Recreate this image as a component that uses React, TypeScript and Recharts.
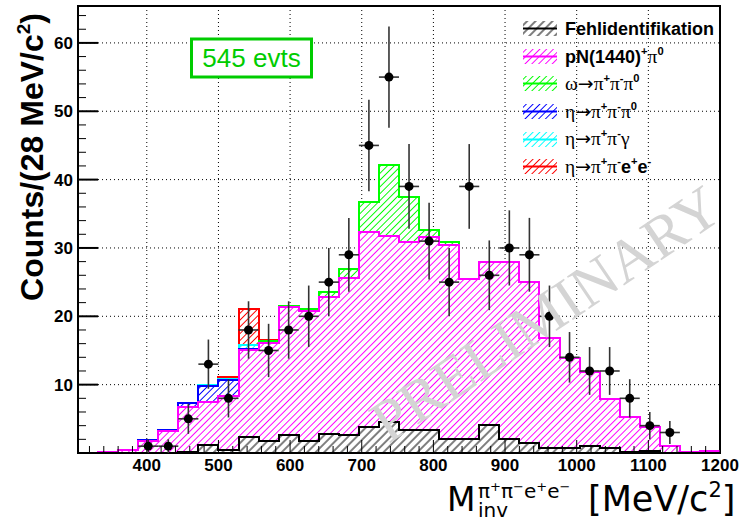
import React from "react";
import {
  ComposedChart,
  Area,
  Line,
  Scatter,
  ErrorBar,
  XAxis,
  YAxis,
  CartesianGrid,
  ReferenceArea,
} from "recharts";

const SANS = '"Liberation Sans", Arial, Helvetica, sans-serif';
const SERIF = '"Liberation Serif", "Times New Roman", serif';
const WIDE = '"DejaVu Sans", Verdana, sans-serif';

// histogram binning: 28 MeV bins, lower edges
const BIN_LOW = [
  304, 332, 360, 388, 416, 444, 472, 500, 528, 556, 584, 612, 640, 668, 696, 724,
  752, 780, 808, 836, 864, 892, 920, 948, 976, 1004, 1032, 1060, 1088, 1116, 1144, 1172,
];
const X_MIN = 304;
const X_MAX = 1200;
const Y_MAX = 65.4;

// simulated contributions per bin (stacked in this order)
const FEHL = [0, 0, 0, 0, 0, 0.2, 1.1, 0.4, 2.3, 1.8, 2.6, 1.7, 2.8, 2.7, 3.8, 4.6, 3.3, 3.4, 2.0, 2.0, 4.1, 2.0, 1.4, 0.8, 0.7, 1.05, 0.73, 0.1, 0.3, 0, 0, 0];
const PN1440 = [0, 0.15, 0.5, 1.7, 3.25, 6.5, 6.3, 8.0, 12.8, 14.3, 18.8, 19.1, 20.0, 22.9, 28.6, 27.2, 27.6, 28.2, 28.45, 23.5, 23.9, 26.0, 23.65, 16.0, 13.25, 10.8, 7.1, 5.1, 3.5, 1.05, 0.15, 0.25];
const OMEGA = [0, 0, 0, 0, 0, 0, 0, 0, 0, 0.3, 0.15, 0.25, 0.7, 1.35, 4.3, 10.4, 6.6, 1.0, 0.4, 0, 0, 0, 0, 0, 0, 0, 0, 0, 0, 0, 0, 0];
const ETA_3PI = [0, 0, 0, 0.15, 0.15, 0.6, 2.45, 2.3, 0.15, 0, 0, 0, 0, 0, 0, 0, 0, 0, 0, 0, 0, 0, 0, 0, 0, 0, 0, 0, 0, 0, 0, 0];
const ETA_GAMMA = [0, 0, 0, 0, 0, 0, 0.1, 0.1, 0.55, 0, 0, 0, 0, 0, 0, 0, 0, 0, 0, 0, 0, 0, 0, 0, 0, 0, 0, 0, 0, 0, 0, 0];
const ETA_DALITZ = [0, 0, 0, 0, 0, 0, 0, 0.25, 5.2, 0.15, 0, 0, 0, 0, 0, 0, 0, 0, 0, 0, 0, 0, 0, 0, 0, 0, 0, 0, 0, 0, 0, 0];

// measured data (bin centres)
const DATA_MASS = [402, 430, 458, 486, 514, 542, 570, 598, 626, 654, 682, 710, 738, 766, 794, 822, 850, 878, 906, 934, 962, 990, 1018, 1046, 1074, 1102, 1130];
const DATA_COUNTS = [1, 1, 5, 13, 8, 18, 15, 18, 20, 25, 29, 45, 55, 39, 31, 25, 39, 26, 30, 29, 20, 14, 12, 12, 8, 4, 3];
const DATA_ERR = [1, 1, 2.2, 3.6, 2.8, 4.2, 3.9, 4.2, 4.5, 5, 5.4, 6.7, 7.4, 6.2, 5.6, 5, 6.2, 5.1, 5.5, 5.4, 4.5, 3.7, 3.5, 3.5, 2.8, 2, 1.7];
const HALF_BIN = 14;

const X_MAJOR = [400, 500, 600, 700, 800, 900, 1000, 1100, 1200];
const X_MINOR = [
  320, 340, 360, 380, 420, 440, 460, 480, 520, 540, 560, 580, 620, 640, 660, 680,
  720, 740, 760, 780, 820, 840, 860, 880, 920, 940, 960, 980, 1020, 1040, 1060, 1080,
  1120, 1140, 1160, 1180,
];
const Y_MAJOR = [10, 20, 30, 40, 50, 60];
const Y_MINOR = [2, 4, 6, 8, 12, 14, 16, 18, 22, 24, 26, 28, 32, 34, 36, 38, 42, 44, 46, 48, 52, 54, 56, 58, 62, 64];

const SERIES = [
  { key: "fehl", label: "Fehlidentifikation", color: "#000000", values: FEHL, gap: 6 },
  { key: "pn", label: "pN(1440)^{+}π^{0}", color: "#ff00ff", values: PN1440, gap: 4.8 },
  { key: "omega", label: "ω→π^{+}π^{-}π^{0}", color: "#00ff00", values: OMEGA, gap: 4.8 },
  { key: "eta3", label: "η→π^{+}π^{-}π^{0}", color: "#0000ff", values: ETA_3PI, gap: 4.8 },
  { key: "etag", label: "η→π^{+}π^{-}γ", color: "#00ffff", values: ETA_GAMMA, gap: 4.8 },
  { key: "etad", label: "η→π^{+}π^{-}e^{+}e^{-}", color: "#ff0000", values: ETA_DALITZ, gap: 4.8 },
];

const isMajorX = (v: number) => X_MAJOR.includes(v);
const isMajorY = (v: number) => Y_MAJOR.includes(v);

function XTick(props: any) {
  const { x, y, payload } = props;
  const major = isMajorX(payload.value);
  return (
    <g>
      <line x1={x} x2={x} y1={y} y2={y - (major ? 13 : 7)} stroke="#000" strokeWidth={1} />
      {major && (
        <text x={x} y={y + 18} textAnchor="middle" fontSize={17} fontWeight="bold" fontFamily={SANS} fill="#000">
          {payload.value}
        </text>
      )}
    </g>
  );
}

function YTick(props: any) {
  const { x, y, payload } = props;
  const major = isMajorY(payload.value);
  return (
    <g>
      <line x1={x} x2={x + (major ? 20 : 8)} y1={y} y2={y} stroke="#000" strokeWidth={major ? 2 : 1} />
      {major && (
        <text x={x - 5} y={y + 6} textAnchor="end" fontSize={17} fontWeight="bold" fontFamily={SANS} fill="#000">
          {payload.value}
        </text>
      )}
    </g>
  );
}

const GREEK = /[\u0370-\u03ff\u2192]/;

// tiny ROOT-like latex: ^{..} superscripts, greek letters / arrows in a symbol-ish font
function latex(src: string, size: number) {
  const parts = src.split(/(\^\{[^}]*\})/).filter(Boolean);
  return parts.map((p, i) => {
    if (p.startsWith("^{")) {
      return (
        <span key={i} style={{ fontSize: size * 0.62, fontWeight: "bold", position: "relative", top: -size * 0.45, fontFamily: SANS }}>
          {p.slice(2, -1)}
        </span>
      );
    }
    return p
      .split(/([\u0370-\u03ff\u2192]+)/)
      .filter(Boolean)
      .map((q, j) =>
        GREEK.test(q) ? (
          <span key={i + "-" + j} style={{ fontFamily: SERIF, fontWeight: "normal", fontSize: size * 1.08 }}>
            {q.split("").map((c, k) =>
              c === "\u2192" ? (
                <span key={k} style={{ fontFamily: WIDE, fontSize: size * 1.05 }}>{c}</span>
              ) : (
                c
              )
            )}
          </span>
        ) : (
          <span key={i + "-" + j} style={{ fontWeight: "bold" }}>{q}</span>
        )
      );
  });
}

export default function App() {
  const rows = [...BIN_LOW, X_MAX].map((x, i) => {
    const idx = Math.min(i, BIN_LOW.length - 1);
    const row: Record<string, number> = { x };
    SERIES.forEach((s) => (row[s.key] = s.values[idx]));
    return row;
  });

  const points = DATA_MASS.map((m, i) => ({ x: m, y: DATA_COUNTS[i], ey: DATA_ERR[i], ex: HALF_BIN }));

  // outlines of the cumulative sums, top of stack first so lower ones end up on top
  const outlines = SERIES.map((s, idx) => ({ ...s, keys: SERIES.slice(0, idx + 1).map((k) => k.key) })).reverse();

  return (
    <div style={{ position: "absolute", left: 0, top: 0, width: 742, height: 519, background: "#fff", fontFamily: SANS }}>
      <svg width={0} height={0} style={{ position: "absolute" }}>
        <defs>
          {SERIES.map((s) => (
            <pattern
              key={s.key}
              id={`hatch-${s.key}`}
              patternUnits="userSpaceOnUse"
              width={s.gap}
              height={s.gap}
              patternTransform="rotate(45)"
            >
              <rect width={s.gap} height={s.gap} fill="#fff" />
              <line x1={s.gap / 2} x2={s.gap / 2} y1={0} y2={s.gap} stroke={s.color} strokeWidth={1} />
            </pattern>
          ))}
        </defs>
      </svg>

      <ComposedChart width={742} height={519} data={rows} margin={{ top: 6, right: 22, bottom: 0, left: 0 }}>
        <XAxis xAxisId="grid" dataKey="x" type="number" domain={[X_MIN, X_MAX]} ticks={X_MAJOR} hide allowDataOverflow />
        <YAxis yAxisId="grid" type="number" domain={[0, Y_MAX]} ticks={Y_MAJOR} hide allowDataOverflow />
        <CartesianGrid xAxisId="grid" yAxisId="grid" stroke="#000" strokeDasharray="1 3" strokeWidth={1} />

        {SERIES.map((s) => (
          <Area
            key={s.key}
            dataKey={s.key}
            stackId="mc"
            type="stepAfter"
            fill={`url(#hatch-${s.key})`}
            fillOpacity={1}
            stroke="none"
            isAnimationActive={false}
          />
        ))}
        {outlines.map((s) => (
          <Line
            key={"l-" + s.key}
            dataKey={(d: any) => s.keys.reduce((a, k) => a + d[k], 0)}
            type="stepAfter"
            stroke={s.color}
            strokeWidth={2}
            shapeRendering="crispEdges"
            dot={false}
            isAnimationActive={false}
          />
        ))}

        <Scatter
          data={points}
          dataKey="y"
          isAnimationActive={false}
          shape={(p: any) => <circle cx={p.cx} cy={p.cy} r={4.5} fill="#000" />}
        >
          <ErrorBar dataKey="ey" direction="y" width={0} stroke="#333" strokeWidth={1.6} />
          <ErrorBar dataKey="ex" direction="x" width={0} stroke="#333" strokeWidth={1.6} />
        </Scatter>

        <XAxis
          dataKey="x"
          type="number"
          domain={[X_MIN, X_MAX]}
          ticks={[...X_MINOR, ...X_MAJOR]}
          interval={0}
          tick={<XTick />}
          tickSize={0}
          tickMargin={0}
          axisLine={false}
          tickLine={false}
          height={66}
          allowDataOverflow
        />
        <YAxis
          type="number"
          domain={[0, Y_MAX]}
          ticks={[...Y_MINOR, ...Y_MAJOR]}
          interval={0}
          tick={<YTick />}
          tickSize={0}
          tickMargin={0}
          axisLine={false}
          tickLine={false}
          width={78}
          allowDataOverflow
        />
        <ReferenceArea x1={X_MIN} x2={X_MAX} y1={0} y2={Y_MAX} fill="none" stroke="#000" strokeWidth={2} ifOverflow="visible" />
      </ComposedChart>

      <svg width={742} height={519} style={{ position: "absolute", left: 0, top: 0, pointerEvents: "none" }}>
        <text
          x={0}
          y={0}
          transform="translate(546,314) rotate(-34)"
          textAnchor="middle"
          dominantBaseline="central"
          fontFamily={SERIF}
          fontSize={60}
          fill="#d4d4d4"
        >
          PRELIMINARY
        </text>

        <text transform="translate(43,157) rotate(-90)" textAnchor="middle" fontSize={32} fontWeight="bold" fontFamily={SANS}>
          Counts/(28 MeV/c<tspan dy={-13} fontSize={19}>2</tspan><tspan dy={13}>)</tspan>
        </text>

        <text x={447} y={511} fontSize={33} fontFamily={WIDE}>M</text>
        <text x={478} y={498} fontSize={20} fontFamily={WIDE}>
          π<tspan dy={-7} fontSize={13}>+</tspan>
          <tspan dy={7}>π</tspan><tspan dy={-7} fontSize={13}>−</tspan>
          <tspan dy={7}>e</tspan><tspan dy={-7} fontSize={13}>+</tspan>
          <tspan dy={7}>e</tspan><tspan dy={-7} fontSize={13}>−</tspan>
        </text>
        <text x={478} y={517} fontSize={20} fontFamily={WIDE}>inv</text>
        <text x={588} y={511} fontSize={35} fontFamily={WIDE}>
          [MeV/c<tspan dy={-14} fontSize={21}>2</tspan><tspan dy={14}>]</tspan>
        </text>

        <rect x={191.5} y={39} width={120} height={38} fill="#fff" stroke="#00cc00" strokeWidth={3} />
        <text x={251.5} y={67} textAnchor="middle" fontSize={26} fontFamily={SANS} fill="#00cc00">545 evts</text>
      </svg>

      <div style={{ position: "absolute", left: 523, top: 15, fontSize: 18, color: "#000", lineHeight: 1 }}>
        {SERIES.map((s) => (
          <div key={s.key} style={{ height: 27.6, display: "flex", alignItems: "center", whiteSpace: "nowrap" }}>
            <svg width={34} height={15} style={{ flex: "none" }}>
              <rect width={34} height={15} fill={`url(#hatch-${s.key})`} />
              <line x1={0} x2={34} y1={7.5} y2={7.5} stroke={s.color} strokeWidth={2} />
            </svg>
            <span style={{ marginLeft: 8 }}>{latex(s.label, 18)}</span>
          </div>
        ))}
      </div>
    </div>
  );
}
